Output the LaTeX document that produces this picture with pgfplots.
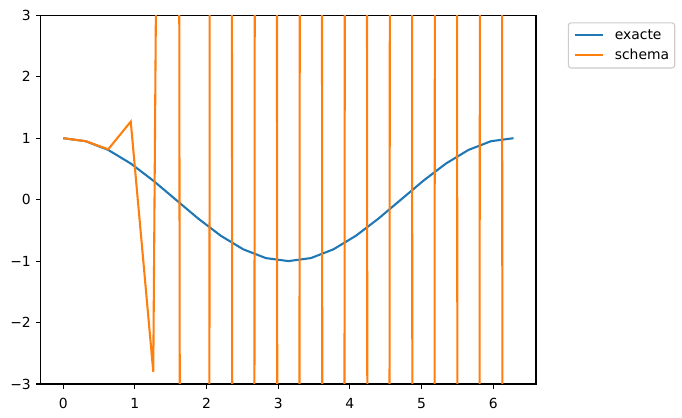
\documentclass[border=0pt]{standalone}
\usepackage{fontspec}
\setmainfont{DejaVu Sans}
\usepackage{pgfplots}
\pgfplotsset{compat=1.18}

\definecolor{tabblue}{HTML}{1F77B4}
\definecolor{taborange}{HTML}{FF7F0E}
\definecolor{legframe}{HTML}{CCCCCC}

\begin{document}
\begin{tikzpicture}
  \begin{axis}[scale only axis,
               disabledatascaling,
               width=495.3bp, height=368.7bp,
               xmin=-0.3142, xmax=6.5973,
               ymin=-3, ymax=3,
               xtick={0,1,2,3,4,5,6},
               ytick={-3,-2,-1,0,1,2,3},
               yticklabels={−3,−2,−1,0,1,2,3},
               /pgf/number format/assume math mode=true,
               tick align=outside,
               tick pos=left,
               major tick length=4.86bp,
               every tick/.style={black, line width=1.1bp},
               axis line style={line width=1.1bp},
               tick label style={font=\fontsize{13.9bp}{16.7bp}\selectfont, inner sep=0pt},
               xticklabel style={yshift=-9bp},
               yticklabel shift=4.86bp,
               legend cell align=left,
               legend image code/.code={\draw[#1] (0bp,0bp) -- (27.8bp,0bp);},
               legend style={at={(1.05,1)}, anchor=north west,
                             xshift=7bp, yshift=-7bp,
                             draw=legframe, line width=1.1bp,
                             rounded corners=2.8bp,
                             inner xsep=5.6bp, inner ysep=6.5bp,
                             row sep=8.8bp, column sep=11bp,
                             font=\fontsize{13.9bp}{16.7bp}\selectfont,
                             nodes={inner sep=0pt, anchor=west}}]
    \addplot[tabblue, line width=2.08bp] coordinates {
      (0.000000, 1.000000) (0.314159, 0.951057) (0.628319, 0.809017)
      (0.942478, 0.587785) (1.256637, 0.309017) (1.570796, 0.000000)
      (1.884956, -0.309017) (2.199115, -0.587785) (2.513274, -0.809017)
      (2.827433, -0.951057) (3.141593, -1.000000) (3.455752, -0.951057)
      (3.769911, -0.809017) (4.084070, -0.587785) (4.398230, -0.309017)
      (4.712389, 0.000000) (5.026548, 0.309017) (5.340708, 0.587785)
      (5.654867, 0.809017) (5.969026, 0.951057) (6.283185, 1.000000)
    };
    % values beyond the visible range are clamped so TeX dimensions do not overflow
    \addplot[taborange, line width=2.08bp, restrict y to domain*=-240:240] coordinates {
      (0.000000, 1.00) (0.314159, 0.951) (0.628319, 0.82)
      (0.942478, 1.27) (1.256637, -2.80) (1.570796, 47.6)
      (1.884956, -464) (2.199115, 5.5e3) (2.513274, -6.6e4)
      (2.827433, 7.9e5) (3.141593, -9.5e6) (3.455752, 1.14e8)
      (3.769911, -1.37e9) (4.084070, 1.64e10) (4.398230, -1.97e11)
      (4.712389, 2.37e12) (5.026548, -2.84e13) (5.340708, 3.41e14)
      (5.654867, -4.09e15) (5.969026, 4.91e16) (6.283185, -5.89e17)
    };
    \legend{exacte, schema}
  \end{axis}
  \pgfresetboundingbox
  \path[use as bounding box]
    ([xshift=-40.7bp, yshift=-34bp]current axis.south west) rectangle
    ([xshift=146bp, yshift=15.3bp]current axis.north east);
\end{tikzpicture}
\end{document}
